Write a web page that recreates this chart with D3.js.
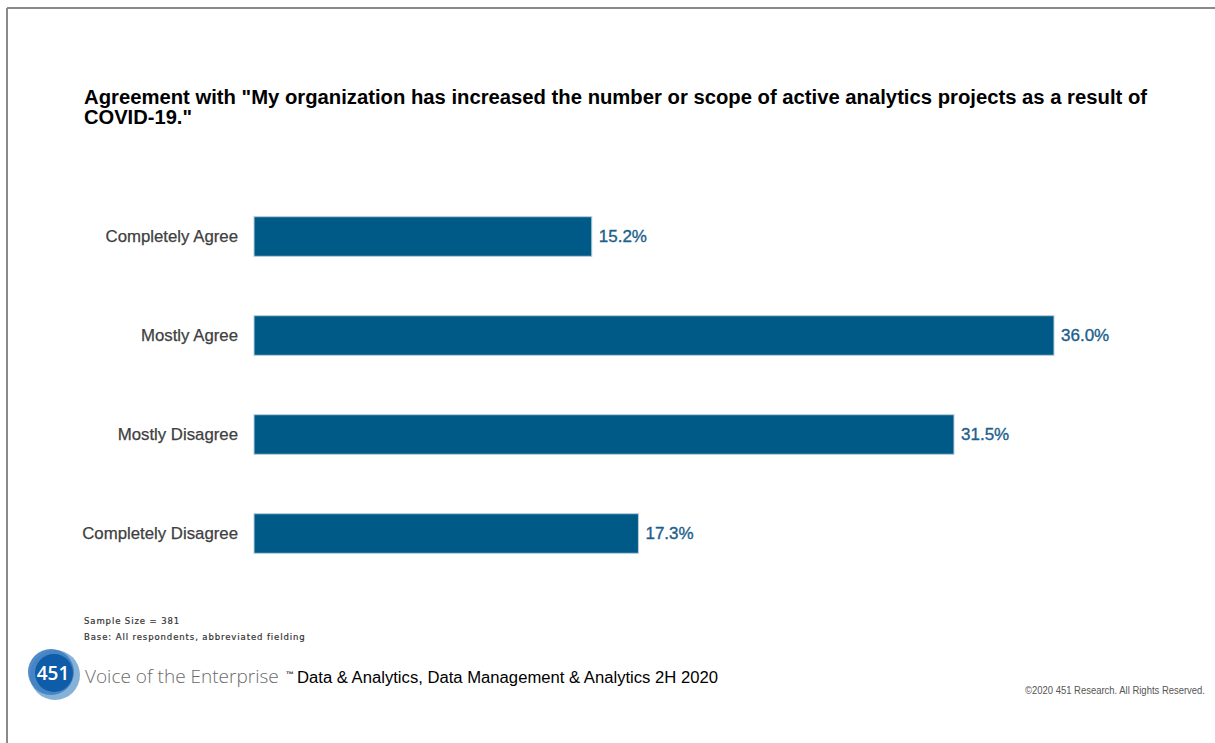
<!DOCTYPE html>
<html>
<head>
<meta charset="utf-8">
<script src="https://cdn.jsdelivr.net/npm/d3@7"></script>
<style>
  html, body { margin: 0; padding: 0; background: #fff; }
  svg { display: block; }
</style>
</head>
<body>
<svg id="chart" width="1215" height="743"></svg>
<script>
// Survey responses and their shares (%)
const categories = ["Completely Agree", "Mostly Agree", "Mostly Disagree", "Completely Disagree"];
const shares = [15.2, 36.0, 31.5, 17.3];

const titleLines = [
  "Agreement with \"My organization has increased the number or scope of active analytics projects as a result of",
  "COVID-19.\""
];
const notes = ["Sample Size = 381", "Base: All respondents, abbreviated fielding"];

const svg = d3.select("#chart");
const W = 1215, H = 743;

// page frame (top and left rules)
svg.append("rect").attr("x", 0).attr("y", 0).attr("width", W).attr("height", H).attr("fill", "#fff");
svg.append("line").attr("x1", 7).attr("x2", W).attr("y1", 8).attr("y2", 8)
  .attr("stroke", "#8a8a8a").attr("stroke-width", 2);
svg.append("line").attr("x1", 7).attr("x2", 7).attr("y1", 8).attr("y2", H)
  .attr("stroke", "#8a8a8a").attr("stroke-width", 2);

// title
const title = svg.append("text")
  .attr("font-family", "'Liberation Sans Narrow', 'Liberation Sans', Arial, sans-serif")
  .attr("font-weight", "bold").attr("font-size", 20).attr("fill", "#000");
title.append("tspan").attr("x", 84).attr("y", 104).text(titleLines[0])
  .attr("textLength", 1063).attr("lengthAdjust", "spacingAndGlyphs");
title.append("tspan").attr("x", 84).attr("y", 124).text(titleLines[1])
  .attr("textLength", 108).attr("lengthAdjust", "spacingAndGlyphs");

// scales
const x = d3.scaleLinear().domain([0, 36]).range([254, 1054]);
const y = d3.scaleBand().domain(categories).range([187, 583]).paddingInner(0.6).paddingOuter(0.3);

const barColor = "#005a87";

const rows = svg.append("g").selectAll("g").data(categories).join("g");

rows.append("rect")
  .attr("x", x(0))
  .attr("y", d => y(d))
  .attr("width", (d, i) => x(shares[i]) - x(0))
  .attr("height", y.bandwidth())
  .attr("fill", barColor)
  .attr("stroke", "#b9cedb").attr("stroke-width", 1);

// category labels
const yAxis = d3.axisLeft(y).tickSize(0).tickPadding(16);
const axisG = svg.append("g").attr("transform", `translate(${x(0)},0)`).call(yAxis);
axisG.select(".domain").remove();
axisG.selectAll("text")
  .attr("font-family", "'Liberation Sans', Arial, sans-serif")
  .attr("font-size", 16.8).attr("fill", "#404040")
  .attr("stroke", "#404040").attr("stroke-width", 0.25);

// value labels
rows.append("text")
  .attr("x", (d, i) => x(shares[i]) + 7)
  .attr("y", d => y(d) + y.bandwidth() / 2)
  .attr("dy", "0.35em")
  .attr("font-family", "'Liberation Sans', Arial, sans-serif")
  .attr("font-size", 17).attr("fill", "#1c5f8c")
  .attr("stroke", "#1c5f8c").attr("stroke-width", 0.35)
  .text((d, i) => shares[i].toFixed(1) + "%");

// notes
svg.append("g").selectAll("text").data(notes).join("text")
  .attr("x", 84).attr("y", (d, i) => 624 + i * 16)
  .attr("font-family", "'DejaVu Sans', sans-serif")
  .attr("font-size", 8.5).attr("letter-spacing", 0.9).attr("fill", "#333")
  .attr("stroke", "#333").attr("stroke-width", 0.2)
  .text(d => d);

// logo
const logo = svg.append("g").attr("transform", "translate(53,673)");
logo.append("circle").attr("cx", 2).attr("cy", 2).attr("r", 25).attr("fill", "#7aaad4").attr("opacity", 0.9);
logo.append("circle").attr("cx", -2).attr("cy", -1).attr("r", 23).attr("fill", "#3f80c2").attr("opacity", 0.9);
logo.append("circle").attr("cx", 1).attr("cy", 0).attr("r", 19).attr("fill", "#0f5ca8");
logo.append("text").attr("x", 0).attr("y", 7).attr("text-anchor", "middle")
  .attr("font-family", "'Open Sans', 'Liberation Sans', sans-serif").attr("font-weight", 600)
  .attr("font-size", 19).attr("fill", "#fff").text("451");

// brand line
svg.append("text").attr("x", 85).attr("y", 683)
  .attr("font-family", "'Open Sans', 'Liberation Sans', sans-serif").attr("font-weight", 300)
  .attr("font-size", 19).attr("fill", "#6b6b6b")
  .text("Voice of the Enterprise");
svg.append("text").attr("x", 286).attr("y", 677)
  .attr("font-family", "'Liberation Sans', sans-serif").attr("font-weight", "bold")
  .attr("font-size", 8).attr("fill", "#333").text("™");

svg.append("text").attr("x", 297).attr("y", 683)
  .attr("font-family", "'Liberation Sans', Arial, sans-serif").attr("font-size", 16).attr("fill", "#000")
  .attr("textLength", 421).attr("lengthAdjust", "spacingAndGlyphs")
  .text("Data & Analytics, Data Management & Analytics 2H 2020");

svg.append("text").attr("x", 1205).attr("y", 694).attr("text-anchor", "end")
  .attr("font-family", "'Liberation Sans', sans-serif")
  .attr("font-size", 10).attr("fill", "#555")
  .attr("textLength", 180).attr("lengthAdjust", "spacingAndGlyphs")
  .text("©2020  451  Research.  All Rights  Reserved.");
</script>
</body>
</html>
